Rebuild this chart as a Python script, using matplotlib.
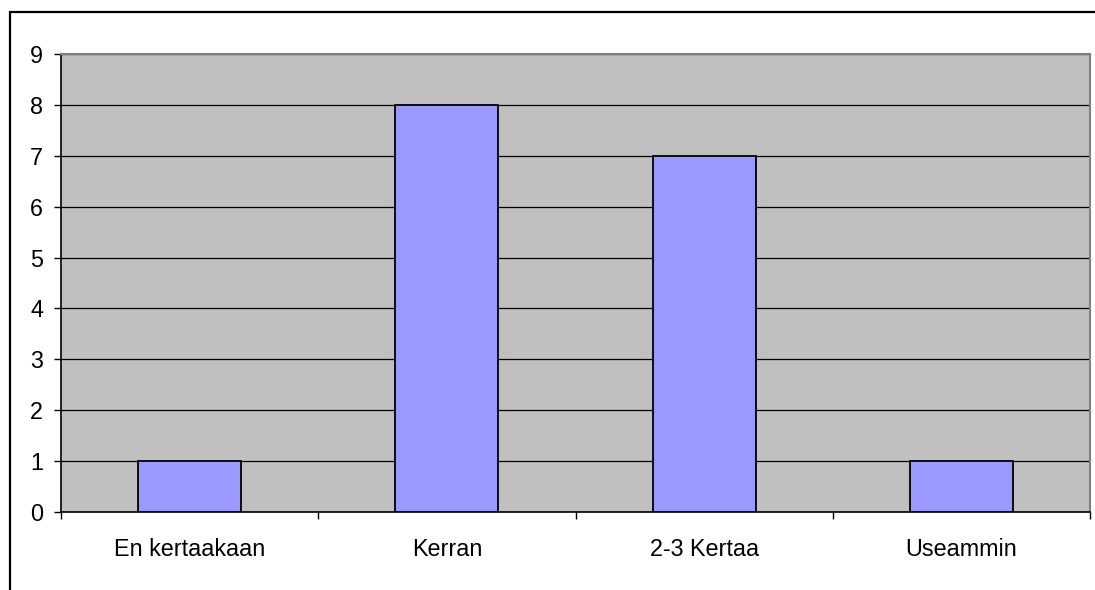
import matplotlib.pyplot as plt
from matplotlib.patches import Rectangle

categories = ["En kertaakaan", "Kerran", "2-3 Kertaa", "Useammin"]
counts = [1, 8, 7, 1]
yticks = list(range(0, 10))

plt.rcParams['font.family'] = ['Liberation Sans', 'DejaVu Sans']

fig = plt.figure(figsize=(10.95, 5.9), dpi=100)
ax = fig.add_axes([61 / 1095, 1 - 512 / 590, 1029 / 1095, 458 / 590])

# outer chart frame
fig.patches.append(Rectangle((9.5 / 1095, -0.05), 1.1, 1 - 12.5 / 590 + 0.05,
                             transform=fig.transFigure, fill=False,
                             edgecolor='black', linewidth=1.6, zorder=0))

ax.set_facecolor('#C0C0C0')
x = range(len(categories))
ax.bar(x, counts, width=0.4, color='#9999FF', edgecolor='black',
       linewidth=1.3, zorder=3)

ax.set_xlim(-0.5, len(categories) - 0.5)
ax.set_ylim(0, 9)
ax.set_yticks(yticks)
ax.yaxis.grid(True, color='black', linewidth=0.9, zorder=1)
ax.set_axisbelow(True)

# category labels centred, tick marks between categories
ax.set_xticks([i - 0.5 for i in range(len(categories) + 1)])
ax.set_xticklabels([])
ax.set_xticks(list(x), minor=True)
ax.set_xticklabels(categories, minor=True)
ax.tick_params(axis='x', which='minor', length=0, pad=18.5, labelsize=16.8)
ax.tick_params(axis='x', which='major', length=5, width=1, color='black',
               direction='out')
ax.tick_params(axis='y', length=5, width=1, pad=8, labelsize=16.8)

for side in ['left', 'bottom']:
    ax.spines[side].set_color('black')
    ax.spines[side].set_linewidth(1.2)
for side in ['top', 'right']:
    ax.spines[side].set_color('#808080')
    ax.spines[side].set_linewidth(1.5)

fig.savefig('out.png', dpi=100)
